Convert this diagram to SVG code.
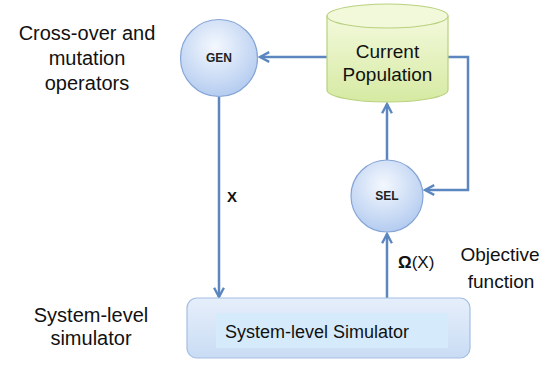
<svg xmlns="http://www.w3.org/2000/svg" width="548" height="371" viewBox="0 0 548 371">
<defs>
<radialGradient id="gCircle" cx="0.45" cy="0.35" r="0.7">
<stop offset="0" stop-color="#f4f8fe"/>
<stop offset="1" stop-color="#b0c9ef"/>
</radialGradient>
<linearGradient id="gCyl" x1="0" y1="0" x2="0" y2="1">
<stop offset="0" stop-color="#f3f9dc"/>
<stop offset="1" stop-color="#d6eaa2"/>
</linearGradient>
<linearGradient id="gBox" x1="0" y1="0" x2="0" y2="1">
<stop offset="0" stop-color="#e6effb"/>
<stop offset="1" stop-color="#c9dcf4"/>
</linearGradient>
<marker id="arr" viewBox="0 0 12 12" refX="10.5" refY="6" markerWidth="13" markerHeight="13" markerUnits="userSpaceOnUse" orient="auto">
<path d="M2,1.5 L10.5,6 L2,10.5" fill="none" stroke="#5b86c0" stroke-width="2.2" stroke-linejoin="miter"/>
</marker>
</defs>
<style>
.conn{fill:none;stroke:#5b86c0;stroke-width:2.5}
.circ{fill:url(#gCircle);stroke:#86a5d6;stroke-width:1.2}
.lbl{font-family:"Liberation Sans",Arial,sans-serif;fill:#111}
.node{font-family:"Liberation Sans",Arial,sans-serif;font-weight:bold;font-size:12px;fill:#222;text-anchor:middle}
</style>
<g id="connectors">
<path class="conn" d="M327,57 L260,57" marker-end="url(#arr)"/>
<path class="conn" d="M448,57 L468,57 L468,190 L425,190" marker-end="url(#arr)"/>
<path class="conn" d="M387,160 L387,104" marker-end="url(#arr)"/>
<path class="conn" d="M219,97 L219,297" marker-end="url(#arr)"/>
<path class="conn" d="M387,298 L387,234" marker-end="url(#arr)"/>
</g>
<g id="gen">
<circle class="circ" cx="219" cy="58" r="38.5"/>
<text class="node" x="219" y="62">GEN</text>
</g>
<g id="population">
<path d="M327,16 L327,90 A60.5,12 0 0 0 448,90 L448,16 Z" fill="url(#gCyl)" stroke="#b9d17e" stroke-width="1.2"/>
<ellipse cx="387.5" cy="16" rx="60.5" ry="12" fill="#f2f8da" stroke="#b9d17e" stroke-width="1.2"/>
<text class="lbl" x="387.5" y="58" font-size="19" text-anchor="middle">Current</text>
<text class="lbl" x="387.5" y="81" font-size="19" text-anchor="middle">Population</text>
</g>
<g id="sel">
<circle class="circ" cx="387" cy="196" r="36"/>
<text class="node" x="387" y="200">SEL</text>
</g>
<g id="simulator">
<rect x="187" y="298" width="283" height="60" rx="10" fill="url(#gBox)" stroke="#a4bfe3" stroke-width="1.2"/>
<rect x="216" y="313" width="232" height="35" fill="#d5ebfb"/>
<text class="lbl" x="225" y="338" font-size="18">System-level Simulator</text>
</g>
<g id="labels">
<text class="lbl" font-size="20" text-anchor="middle"><tspan x="87" y="40">Cross-over and</tspan><tspan x="87" y="65">mutation</tspan><tspan x="87" y="90">operators</tspan></text>
<text class="lbl" font-size="20" text-anchor="middle"><tspan x="91" y="322">System-level</tspan><tspan x="91" y="345">simulator</tspan></text>
<text class="lbl" font-size="19" text-anchor="middle"><tspan x="500" y="261">Objective</tspan><tspan x="501" y="288">function</tspan></text>
<text class="lbl" x="227" y="202" font-size="15" font-weight="bold">X</text>
<text class="lbl" x="398" y="268" font-size="17"><tspan font-weight="bold">Ω</tspan>(X)</text>
</g>
</svg>
